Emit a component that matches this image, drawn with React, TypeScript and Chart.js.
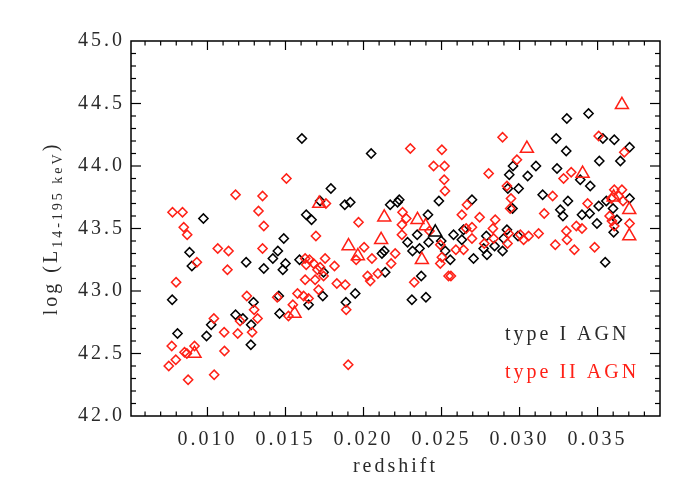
import React, { useEffect, useRef } from "react";
import { Chart, registerables } from "chart.js";

Chart.register(...registerables);

// ---- data (redshift, log L14-195keV) ----
const typeIRedshift = [
  0.01605, 0.02049,
  0.00974, 0.01489, 0.00885, 0.009, 0.01248, 0.01361, 0.01419, 0.01451, 0.015, 0.01483, 0.00774, 0.01295, 0.0118, 0.01227,
  0.01024, 0.0128, 0.00994, 0.00808, 0.01278, 0.01462, 0.01457,
  0.01791, 0.01722, 0.0188, 0.01915, 0.01633, 0.01667, 0.02229, 0.02218, 0.02171, 0.02413, 0.02483, 0.02344, 0.02282,
  0.02314, 0.02359, 0.02417, 0.02498, 0.02524, 0.02577, 0.02641, 0.0263, 0.02556, 0.0237, 0.0231, 0.024, 0.02118, 0.02133,
  0.02139, 0.01947, 0.01887, 0.01739, 0.0159, 0.01744, 0.01648,
  0.03235, 0.03299, 0.03534, 0.03607, 0.03705, 0.03511, 0.03646, 0.02958, 0.03105, 0.02934, 0.03052, 0.0324, 0.03389,
  0.03453, 0.02925, 0.02994, 0.02955, 0.03148, 0.0331, 0.03507, 0.03556, 0.03705, 0.03599, 0.03624, 0.03603, 0.03496,
  0.034, 0.03449, 0.03261, 0.03278, 0.03549, 0.0299, 0.02919, 0.02898, 0.02891, 0.0284, 0.02787, 0.0277, 0.02791, 0.02705,
  0.02695, 0.03442, 0.03303,
];
const typeILum = [
  44.22, 44.1,
  43.58, 43.42, 43.31, 43.2, 43.23, 43.18, 43.26, 43.32, 43.22, 43.17, 42.93, 42.91, 42.81, 42.78,
  42.73, 42.73, 42.64, 42.66, 42.57, 42.82, 42.96,
  43.82, 43.72, 43.69, 43.71, 43.61, 43.57, 43.73, 43.71, 43.69, 43.61, 43.72, 43.45, 43.39,
  43.32, 43.34, 43.39, 43.4, 43.32, 43.45, 43.49, 43.41, 43.25, 43.12, 42.93, 42.95, 43.3, 43.32,
  43.15, 42.98, 42.91, 42.96, 43.25, 43.15, 42.89,
  44.22, 44.12, 44.22, 44.21, 44.15, 44.04, 44.04, 44.0, 44.0, 43.93, 43.92, 43.98, 43.89,
  43.84, 43.82, 43.82, 43.66, 43.77, 43.72, 43.68, 43.72, 43.74, 43.66, 43.57, 43.47, 43.54,
  43.61, 43.62, 43.65, 43.6, 43.23, 43.44, 43.49, 43.42, 43.32, 43.36, 43.44, 43.34, 43.29, 43.26,
  43.73, 44.42, 44.38,
];

const typeIIRedshift = [
  0.01506, 0.0118, 0.01353,
  0.00776, 0.0084, 0.00848, 0.0087, 0.01327, 0.01361, 0.01066, 0.01135, 0.00932, 0.00799, 0.01128, 0.01353, 0.01252,
  0.01447, 0.01299, 0.01321, 0.01209, 0.01041, 0.01286, 0.01194, 0.01107, 0.00771, 0.00797, 0.00752, 0.00853, 0.00868,
  0.00917, 0.00876, 0.01109, 0.01043, 0.01902, 0.01519,
  0.02517, 0.02522, 0.01759, 0.01968, 0.01695, 0.0225, 0.02274, 0.02246, 0.02246, 0.02423, 0.02492, 0.02658, 0.0263,
  0.02663, 0.02592, 0.02641, 0.02502, 0.02492, 0.02545, 0.0256, 0.02325, 0.02004, 0.02054, 0.02177, 0.02203, 0.02092,
  0.02026, 0.02043, 0.01953, 0.01829, 0.01883, 0.01889, 0.01712, 0.01754, 0.01814, 0.01626, 0.01654, 0.01633, 0.0168,
  0.01722, 0.01705, 0.01626, 0.0169, 0.01744, 0.01577, 0.01616, 0.01648, 0.01547,
  0.02891, 0.03507, 0.03671, 0.02983, 0.02802, 0.03331, 0.03282, 0.02919, 0.02945, 0.0294, 0.03212, 0.03436, 0.03607,
  0.03656, 0.03635, 0.03588, 0.03663, 0.03705, 0.03577, 0.03592, 0.03607, 0.03364, 0.034, 0.03158, 0.033, 0.03304,
  0.03229, 0.03351, 0.03481, 0.03122, 0.03058, 0.03026, 0.03005, 0.0293, 0.02923, 0.02834, 0.02844, 0.02829, 0.02774,
  0.02744, 0.02695, 0.02695,
  0.023, 0.02502, 0.02449, 0.02519,
];
const typeIILum = [
  43.9, 43.77, 43.76,
  43.63, 43.63, 43.51, 43.45, 43.64, 43.52, 43.34, 43.32, 43.23, 43.07, 43.17, 43.34, 42.96,
  42.95, 42.85, 42.78, 42.76, 42.78, 42.67, 42.66, 42.67, 42.56, 42.45, 42.4, 42.51, 42.5,
  42.56, 42.29, 42.52, 42.33, 42.41, 42.8,
  43.89, 43.8, 43.7, 43.55, 43.44, 43.63, 43.58, 43.53, 43.45, 43.48, 43.37, 43.5, 43.61,
  43.69, 43.33, 43.33, 43.27, 43.22, 43.12, 43.12, 43.07, 43.35, 43.26, 43.22, 43.3, 43.14,
  43.12, 43.08, 43.25, 43.06, 43.05, 42.85, 43.01, 43.26, 43.2, 43.26, 43.25, 43.21, 43.22,
  43.19, 43.17, 43.09, 43.09, 43.12, 42.98, 42.96, 42.94, 42.89,
  44.23, 44.24, 44.11, 44.05, 43.94, 43.95, 43.9, 43.84, 43.74, 43.66, 43.76, 43.7, 43.81,
  43.81, 43.76, 43.74, 43.72, 43.54, 43.6, 43.56, 43.52, 43.52, 43.5, 43.62, 43.48, 43.41,
  43.37, 43.33, 43.35, 43.46, 43.44, 43.41, 43.45, 43.46, 43.38, 43.42, 43.57, 43.5, 43.38,
  43.59, 43.51, 43.42,
  44.14, 44.13, 44.0, 44.0,
];

const triIIRedshift = [
  0.01716, 0.02133, 0.01904, 0.02113, 0.01964, 0.02346, 0.02398, 0.02374, 0.01558, 0.00917, 0.03047, 0.03404, 0.03603,
  0.03703, 0.03703, 0.03656,
];
const triIILum = [
  43.7, 43.59, 43.36, 43.41, 43.28, 43.57, 43.52, 43.25, 42.82, 42.5, 44.14, 43.94, 43.75,
  43.65, 43.44, 44.49,
];

const triIRedshift = [0.0246];
const triILum = [43.47];

const xTickValues = [0.01, 0.015, 0.02, 0.025, 0.03, 0.035];
const yTickValues = [42.0, 42.5, 43.0, 43.5, 44.0, 44.5, 45.0];
const xRange = [0.0051, 0.039];
const yRange = [42.0, 45.0];
const legendLabels = ["type I AGN", "type II AGN"];

const RED = "rgb(255,32,22)";
const BLACK = "#000000";
const TEXT = "#2a2a2a";
const FONT = "'Liberation Serif', 'Times New Roman', serif";

const toPoints = (xs: number[], ys: number[]) => xs.map((x, i) => ({ x, y: ys[i] }));

const framePlugin = {
  id: "idlFrame",
  beforeDraw(chart: any) {
    (chart.ctx as any).letterSpacing = "3px";
  },
  afterDraw(chart: any) {
    const ctx = chart.ctx as CanvasRenderingContext2D;
    const a = chart.chartArea;
    const xs = chart.scales.x;
    const ys = chart.scales.y;
    ctx.save();
    ctx.strokeStyle = "#000";
    ctx.lineWidth = 1.5;
    ctx.strokeRect(a.left, a.top, a.right - a.left, a.bottom - a.top);
    const line = (x1: number, y1: number, x2: number, y2: number) => {
      ctx.beginPath();
      ctx.moveTo(x1, y1);
      ctx.lineTo(x2, y2);
      ctx.stroke();
    };
    ctx.lineWidth = 1.2;
    for (let i = 6; i <= 38; i++) {
      const v = i / 1000;
      const major = xTickValues.some((t) => Math.abs(t - v) < 1e-9);
      const len = major ? 9 : 4.5;
      const px = xs.getPixelForValue(v);
      line(px, a.bottom, px, a.bottom - len);
      line(px, a.top, px, a.top + len);
    }
    for (let i = 421; i < 450; i++) {
      const v = i / 10;
      const major = yTickValues.some((t) => Math.abs(t - v) < 1e-9);
      const len = major ? 10 : 5;
      const py = ys.getPixelForValue(v);
      line(a.left, py, a.left + len, py);
      line(a.right, py, a.right - len, py);
    }

    // y-axis title with subscript
    ctx.fillStyle = TEXT;
    (ctx as any).letterSpacing = "3px";
    ctx.textBaseline = "alphabetic";
    ctx.textAlign = "left";
    const mainFont = `20px ${FONT}`;
    const subFont = `14px ${FONT}`;
    const p1 = "log (L";
    const p2 = "14-195 keV";
    const p3 = ")";
    ctx.font = mainFont;
    const w1 = ctx.measureText(p1).width;
    const w3 = ctx.measureText(p3).width;
    ctx.font = subFont;
    const w2 = ctx.measureText(p2).width;
    const total = w1 + w2 + w3;
    ctx.translate(57, (a.top + a.bottom) / 2);
    ctx.rotate(-Math.PI / 2);
    let cx = -total / 2;
    ctx.font = mainFont;
    ctx.fillText(p1, cx, 0);
    cx += w1;
    ctx.font = subFont;
    ctx.fillText(p2, cx, 5);
    cx += w2;
    ctx.font = mainFont;
    ctx.fillText(p3, cx, 0);
    ctx.setTransform(1, 0, 0, 1, 0, 0);

    // legend text
    ctx.font = mainFont;
    ctx.textBaseline = "middle";
    ctx.fillStyle = TEXT;
    ctx.fillText(legendLabels[0], 505, 335);
    ctx.fillStyle = RED;
    ctx.fillText(legendLabels[1], 505, 373);
    ctx.restore();
    (ctx as any).letterSpacing = "0px";
  },
};

export default function App() {
  const ref = useRef<HTMLCanvasElement | null>(null);
  useEffect(() => {
    if (!ref.current) return;
    const font = { family: FONT, size: 20 };
    const zeroPad = (s: any) => {
      s.paddingTop = 0;
      s.paddingBottom = 0;
      s.paddingLeft = 0;
      s.paddingRight = 0;
    };
    const chart = new Chart(ref.current, {
      type: "scatter",
      data: {
        datasets: [
          {
            label: "type I AGN (triangle)",
            data: toPoints(triIRedshift, triILum),
            pointStyle: "triangle",
            radius: 7.5,
            borderColor: BLACK,
            backgroundColor: "rgba(0,0,0,0)",
            borderWidth: 1.5,
          },
          {
            label: "type II AGN (triangle)",
            data: toPoints(triIIRedshift, triIILum),
            pointStyle: "triangle",
            radius: 7.5,
            borderColor: RED,
            backgroundColor: "rgba(0,0,0,0)",
            borderWidth: 1.5,
          },
          {
            label: "type II AGN",
            data: toPoints(typeIIRedshift, typeIILum),
            pointStyle: "rectRot",
            radius: 4.6,
            borderColor: RED,
            backgroundColor: "rgba(0,0,0,0)",
            borderWidth: 1.5,
          },
          {
            label: "type I AGN",
            data: toPoints(typeIRedshift, typeILum),
            pointStyle: "rectRot",
            radius: 4.6,
            borderColor: BLACK,
            backgroundColor: "rgba(0,0,0,0)",
            borderWidth: 1.5,
          },
        ],
      },
      options: {
        animation: false,
        responsive: false,
        devicePixelRatio: 1,
        events: [],
        layout: { padding: { left: 0, top: 41, right: 40, bottom: 0 } },
        plugins: { legend: { display: false }, tooltip: { enabled: false } },
        scales: {
          x: {
            type: "linear",
            min: xRange[0],
            max: xRange[1],
            grid: { display: false, drawTicks: false },
            border: { display: false },
            afterBuildTicks: (s: any) => {
              s.ticks = xTickValues.map((v) => ({ value: v }));
            },
            afterFit: (s: any) => {
              s.height = 84;
              zeroPad(s);
            },
            ticks: {
              callback: (v: any) => Number(v).toFixed(3),
              color: TEXT,
              font,
              padding: 12,
              maxRotation: 0,
              autoSkip: false,
            },
            title: {
              display: true,
              text: "redshift",
              color: TEXT,
              font,
              padding: { top: 0, bottom: 21 },
            },
          },
          y: {
            type: "linear",
            min: yRange[0],
            max: yRange[1],
            grid: { display: false, drawTicks: false },
            border: { display: false },
            afterBuildTicks: (s: any) => {
              s.ticks = yTickValues.map((v) => ({ value: v }));
            },
            afterFit: (s: any) => {
              s.width = 131;
              zeroPad(s);
            },
            ticks: {
              callback: (v: any) => Number(v).toFixed(1),
              color: TEXT,
              font,
              padding: 6,
              autoSkip: false,
            },
          },
        },
      },
      plugins: [framePlugin],
    } as any);
    return () => chart.destroy();
  }, []);
  return (
    <div style={{ position: "absolute", left: 0, top: 0, width: 700, height: 500, background: "#fff" }}>
      <canvas ref={ref} width={700} height={500} />
    </div>
  );
}
